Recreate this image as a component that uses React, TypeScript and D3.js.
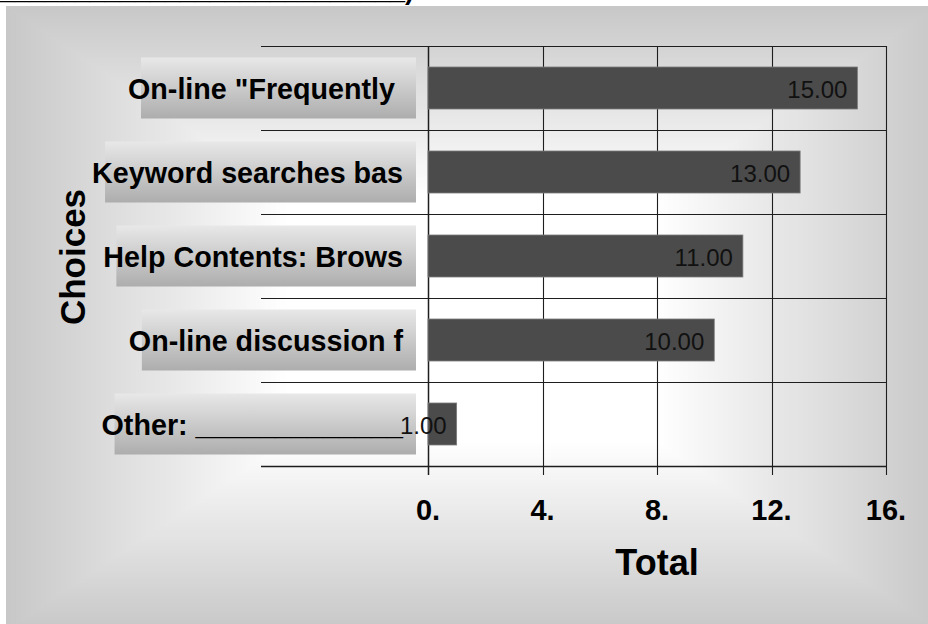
import React from "react";
import * as d3 from "d3";

// Survey results: how respondents look for help
const choices = [
  'On-line "Frequently ',
  "Keyword searches bas",
  "Help Contents: Brows",
  "On-line discussion f",
  "Other: _____________",
];
const totals = [15, 13, 11, 10, 1];
const xTicks = [0, 4, 8, 12, 16];
const xTickLabels = ["0.", "4.", "8.", "12.", "16."];
const xAxisTitle = "Total";
const yAxisTitle = "Choices";
const headerTail = "___________________________)";

const W = 928;
const H = 624;
const FONT = "'Liberation Sans', Arial, Helvetica, sans-serif";

let measureCtx: CanvasRenderingContext2D | null = null;
function measure(text: string, font: string): number {
  if (!measureCtx) measureCtx = document.createElement("canvas").getContext("2d");
  if (!measureCtx) return text.length * 15;
  measureCtx.font = font;
  return measureCtx.measureText(text).width;
}

// Rectangular "from centre" shading of the chart panel, built from nested rects
function PanelShade() {
  const cx = 472, cy = 318, hw = 466, hh = 312;
  const t0 = 0.4;
  const steps = 56;
  const shade = d3.scaleLinear<number>().domain([t0, 1]).range([255, 200]).clamp(true);
  const rects = d3.range(steps + 1).map((i) => {
    const t = 1 - (i / steps) * (1 - t0);
    const v = Math.round(shade(t));
    return (
      <rect
        key={i}
        x={cx - t * hw}
        y={cy - t * hh}
        width={2 * t * hw}
        height={2 * t * hh}
        fill={`rgb(${v},${v},${v})`}
      />
    );
  });
  return <g>{rects}</g>;
}

export default function App() {
  const plotLeft = 428;
  const plotRight = 886;
  const plotTop = 46;
  const plotBottom = 466;
  const gridLeft = 261;
  const labelRight = 403;
  const boxShift = 13;
  const catSize = 28.7;

  const x = d3.scaleLinear().domain([0, 16]).range([plotLeft, plotRight]);
  const y = d3
    .scaleBand<string>()
    .domain(choices)
    .range([plotTop, plotBottom])
    .paddingInner(0.5)
    .paddingOuter(0.25);
  const step = y.step();
  const fmt = d3.format(".2f");

  const rowEdges = d3.range(choices.length + 1).map((i) => plotTop + i * step);
  const catFont = `bold ${catSize}px ${FONT}`;

  return (
    <svg
      width={W}
      height={H}
      viewBox={`0 0 ${W} ${H}`}
      style={{ position: "fixed", left: 0, top: 0, background: "#fff" }}
    >
      <defs>
        <linearGradient id="labelBox" x1="0" y1="0" x2="0" y2="1">
          <stop offset="0" stopColor="#e8e8e8" />
          <stop offset="1" stopColor="#adadad" />
        </linearGradient>
      </defs>

      <text
        x={414}
        y={-1.5}
        textAnchor="end"
        fontFamily={FONT}
        fontWeight="bold"
        fontSize={27}
        fill="#000"
      >
        {headerTail}
      </text>

      <PanelShade />

      {/* category label boxes */}
      {choices.map((c) => {
        const w = measure(c, catFont);
        const cy = (y(c) ?? 0) + y.bandwidth() / 2;
        const left = labelRight - w + boxShift;
        return (
          <rect
            key={"box" + c}
            x={left}
            y={cy - 30.5}
            width={labelRight + boxShift - left}
            height={61}
            fill="url(#labelBox)"
          />
        );
      })}

      {/* horizontal grid lines */}
      {rowEdges.map((yy, i) => (
        <line
          key={"h" + i}
          x1={gridLeft}
          x2={plotRight}
          y1={Math.round(yy) + 0.5}
          y2={Math.round(yy) + 0.5}
          stroke="#1e1e1e"
          strokeWidth={i === rowEdges.length - 1 ? 1.6 : 1.2}
        />
      ))}

      {/* vertical grid lines and ticks */}
      {xTicks.map((t) => (
        <line
          key={"v" + t}
          x1={Math.round(x(t)) + 0.5}
          x2={Math.round(x(t)) + 0.5}
          y1={plotTop}
          y2={plotBottom + 9}
          stroke="#1e1e1e"
          strokeWidth={t === 0 ? 1.5 : 1.1}
        />
      ))}

      {/* bars */}
      {choices.map((c, i) => (
        <rect
          key={"bar" + c}
          x={x(0)}
          y={y(c)}
          width={x(totals[i]) - x(0)}
          height={y.bandwidth()}
          fill="#4b4b4b"
          stroke="#7a7a7a"
          strokeWidth={0.8}
        />
      ))}

      {/* category labels */}
      {choices.map((c) => (
        <text
          key={"lab" + c}
          x={labelRight}
          y={(y(c) ?? 0) + y.bandwidth() / 2 + 11}
          textAnchor="end"
          fontFamily={FONT}
          fontWeight="bold"
          fontSize={catSize}
          fill="#000"
          style={{ whiteSpace: "pre" }}
        >
          {c}
        </text>
      ))}

      {/* value labels */}
      {choices.map((c, i) => (
        <text
          key={"val" + c}
          x={x(totals[i]) - 10}
          y={(y(c) ?? 0) + y.bandwidth() / 2 + 10}
          textAnchor="end"
          fontFamily={FONT}
          fontSize={24}
          fill="#111"
        >
          {fmt(totals[i])}
        </text>
      ))}

      {/* x tick labels */}
      {xTicks.map((t, i) => (
        <text
          key={"xt" + t}
          x={x(t)}
          y={520}
          textAnchor="middle"
          fontFamily={FONT}
          fontWeight="bold"
          fontSize={29}
          fill="#000"
        >
          {xTickLabels[i]}
        </text>
      ))}

      <text
        x={(x(0) + x(16)) / 2}
        y={575}
        textAnchor="middle"
        fontFamily={FONT}
        fontWeight="bold"
        fontSize={36}
        fill="#000"
      >
        {xAxisTitle}
      </text>

      <text
        transform="translate(85,257) rotate(-90)"
        textAnchor="middle"
        fontFamily={FONT}
        fontWeight="bold"
        fontSize={35}
        fill="#000"
      >
        {yAxisTitle}
      </text>
    </svg>
  );
}
